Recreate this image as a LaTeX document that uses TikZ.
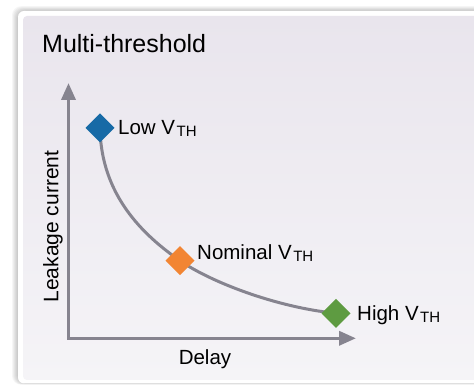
\documentclass[tikz,border=0pt]{standalone}
\usepackage{fontspec}
\setmainfont{Liberation Sans}
\usetikzlibrary{shapes.geometric,arrows.meta}
\definecolor{axisgray}{HTML}{86848F}
\definecolor{lowblue}{HTML}{176AA6}
\definecolor{nomorange}{HTML}{F28533}
\definecolor{highgreen}{HTML}{5E9B41}
\definecolor{paneltop}{HTML}{E9E5ED}
\definecolor{panelbot}{HTML}{F5F4F7}
\newcommand{\vth}{V\kern1.5pt\raisebox{-1.7pt}{\fontsize{15}{15}\selectfont TH}}
\begin{document}
\begin{tikzpicture}[x=1pt,y=1pt,
  marker/.style={diamond, aspect=1, inner sep=0pt, minimum width=28.6pt, minimum height=28.6pt},
  lbl/.style={inner sep=0pt, font=\fontsize{20.5}{22}\selectfont},
  axis/.style={draw=axisgray, line width=3.5pt, line join=miter, {Triangle[length=17pt,width=14pt]}-{Triangle[length=17pt,width=14pt]}},
  curve/.style={draw=axisgray, line width=3pt}]
\useasboundingbox (0,0) rectangle (474,385);
\clip (0,0) rectangle (474,385);
\fill[white] (0,0) rectangle (474,385);
% shadow
\foreach \i in {1,...,6}
  \fill[black, opacity=0.035, rounded corners=9] (18-\i,1.5-0.2*\i) rectangle (490,374+0.8*\i);
\fill[white, rounded corners=6] (18,1.5) rectangle (490,374);
\shade[top color=paneltop, bottom color=panelbot, rounded corners=4] (23,5) rectangle (490,369);
% title
\node[inner sep=0pt, anchor=base west, font=\fontsize{25}{28}\selectfont] (title) at (42,332) {Multi-threshold};
% axes
\coordinate (origin) at (68.5,46.7);
\coordinate (ytip) at (68.5,302);
\coordinate (xtip) at (356,46.7);
\draw[axis] (ytip) -- (origin) -- (xtip);
% markers
\node[marker] (low) at (100,257) {};
\node[marker] (nom) at (180,124.3) {};
\node[marker] (high) at (336,71.7) {};
\draw[curve] (low.center) .. controls (101,190) and (143,150) .. (nom.center)
  .. controls (210,103.3) and (276,77.7) .. (high.center);
\fill[lowblue] (low.north) -- (low.east) -- (low.south) -- (low.west) -- cycle;
\fill[nomorange] (nom.north) -- (nom.east) -- (nom.south) -- (nom.west) -- cycle;
\fill[highgreen] (high.north) -- (high.east) -- (high.south) -- (high.west) -- cycle;
% labels
\node[lbl, anchor=base west] (lowlbl) at (118,250) {Low \vth};
\node[lbl, anchor=base west] (nomlbl) at (197,125) {Nominal \vth};
\node[lbl, anchor=base west] (highlbl) at (357,64.3) {High \vth};
\node[lbl, anchor=base] (xlbl) at (205,20) {Delay};
\node[lbl, anchor=base west, rotate=90, font=\fontsize{21}{22}\selectfont] (ylbl) at (58.3,82.3) {Leakage current};
\end{tikzpicture}
\end{document}
